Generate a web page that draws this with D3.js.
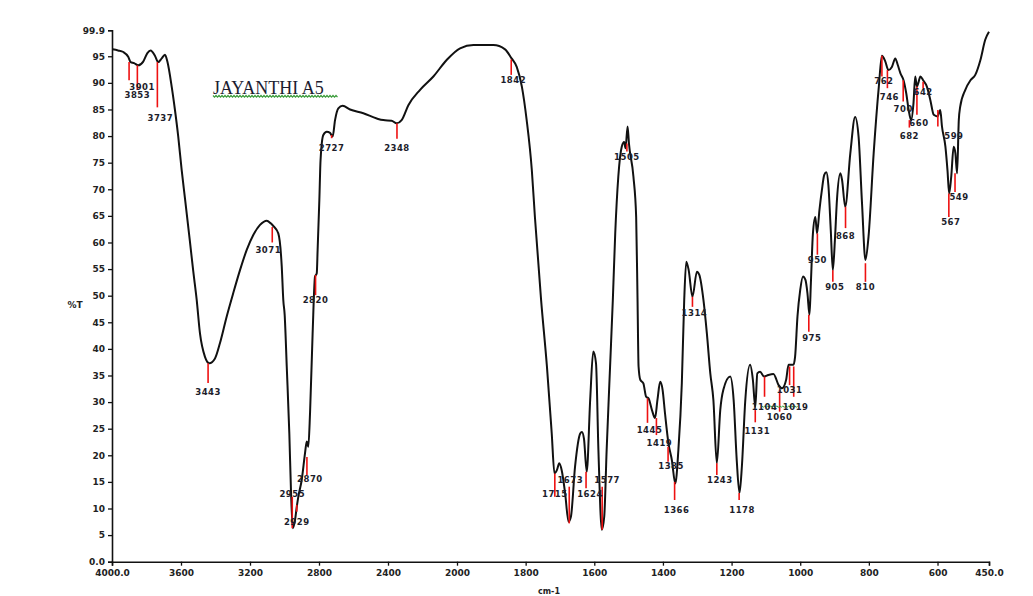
<!DOCTYPE html>
<html>
<head>
<meta charset="utf-8">
<script src="https://cdn.jsdelivr.net/npm/d3@7"></script>
<style>
  html, body { margin: 0; padding: 0; background: #fff; }
  svg { display: block; }
  .tick text { font-family: "DejaVu Sans", sans-serif; font-weight: bold; font-size: 9px; fill: #222; }
</style>
</head>
<body>
<svg id="chart" width="1033" height="596"></svg>
<script>
// IR spectrum of sample JAYANTHI A5: wavenumber (cm-1) vs % transmittance
const wavenumber = [
  3997, 3965, 3934, 3906, 3892, 3872, 3848, 3819, 3795, 3776, 3751, 3732, 3712, 3693, 3679,
  3654, 3635, 3616, 3596, 3577, 3548, 3529, 3509, 3490, 3461, 3436, 3403, 3374, 3335, 3297,
  3258, 3219, 3181, 3142, 3103, 3080, 3065, 3036, 3016, 3007, 2999, 2987, 2972, 2962, 2952,
  2939, 2929, 2920, 2900, 2881, 2871, 2862, 2852, 2837, 2823, 2813, 2808, 2798, 2791, 2775,
  2755, 2736, 2721, 2707, 2688, 2663, 2620, 2543, 2465, 2427, 2379, 2350, 2321, 2282, 2214,
  2137, 2060, 1991, 1952, 1894, 1860, 1841, 1826, 1811, 1797, 1782, 1773, 1755, 1738, 1724,
  1716, 1709, 1702, 1695, 1685, 1675, 1668, 1656, 1641, 1636, 1630, 1622, 1612, 1603, 1595,
  1588, 1578, 1571, 1564, 1554, 1546, 1539, 1530, 1520, 1513, 1509, 1503, 1499, 1486, 1478,
  1474, 1471, 1466, 1457, 1449, 1442, 1432, 1423, 1416, 1408, 1401, 1394, 1384, 1374, 1364,
  1355, 1345, 1338, 1332, 1325, 1314, 1301, 1294, 1282, 1272, 1262, 1253, 1243, 1233, 1224,
  1204, 1194, 1185, 1177, 1170, 1160, 1146, 1138, 1131, 1125, 1117, 1105, 1093, 1078, 1063,
  1053, 1041, 1034, 1020, 1015, 1008, 1000, 992, 985, 979, 973, 969, 963, 956, 951,
  944, 937, 930, 924, 918, 911, 905, 899, 893, 883, 878, 869, 854, 840, 830,
  820, 810, 801, 786, 771, 762, 752, 743, 733, 723, 716, 708, 699, 691, 684,
  677, 670, 665, 660, 655, 650, 642, 631, 621, 611, 600, 592, 587, 577, 571,
  566, 560, 553, 548, 543, 538, 534, 519, 504, 490, 475, 461, 450
];
const transmittance = [
  96.3, 96.1, 95.8, 94.9, 93.9, 93.7, 93.3, 94.0, 95.6, 96.1, 95.1, 93.9, 94.6, 95.3, 94.0,
  89.3, 84.9, 79.9, 73.6, 68.3, 60.1, 54.6, 49.2, 42.9, 38.5, 37.3, 38.2, 41.1, 46.1, 50.5,
  54.8, 58.6, 61.4, 63.3, 64.1, 63.6, 63.1, 61.7, 55.5, 49.2, 46.4, 36.7, 24.1, 12.9, 6.3,
  7.8, 10.3, 12.2, 15.4, 20.4, 22.6, 21.6, 27.9, 42.9, 53.6, 54.2, 58.6, 68.0, 75.5, 80.2,
  80.8, 80.6, 79.9, 83.0, 85.2, 85.7, 85.0, 84.3, 83.3, 83.0, 82.9, 82.4, 83.0, 85.8, 88.7,
  91.2, 94.3, 96.5, 97.1, 97.1, 96.3, 94.6, 93.0, 89.3, 83.0, 73.6, 64.8, 49.2, 36.7, 24.1,
  16.6, 17.2, 18.5, 17.2, 12.9, 7.5, 8.5, 17.9, 24.1, 24.4, 23.1, 16.9, 30.4, 39.5, 37.3,
  21.0, 6.0, 8.5, 21.0, 36.7, 49.2, 61.7, 72.4, 78.0, 78.9, 77.7, 81.8, 78.6, 72.4, 64.8,
  49.2, 36.7, 34.2, 33.5, 31.0, 30.7, 28.5, 27.0, 30.4, 33.8, 32.3, 27.9, 22.3, 19.1, 14.7,
  21.0, 33.5, 49.2, 56.4, 54.8, 49.8, 54.5, 53.9, 49.2, 42.9, 35.4, 30.4, 18.5, 28.5, 32.3,
  34.8, 30.4, 19.1, 12.9, 17.9, 30.4, 37.0, 34.2, 29.1, 35.4, 35.7, 34.8, 35.1, 35.3, 33.2,
  32.6, 34.2, 37.0, 37.0, 38.5, 46.1, 51.1, 53.6, 53.0, 50.5, 46.4, 52.3, 61.7, 64.8, 61.7,
  66.1, 69.8, 72.7, 73.2, 70.8, 62.3, 54.8, 60.4, 68.0, 73.0, 71.7, 66.7, 76.8, 83.6, 79.9,
  67.4, 56.7, 61.1, 76.8, 89.3, 95.1, 94.0, 92.4, 93.0, 94.6, 93.4, 91.8, 90.5, 88.0, 84.9,
  83.0, 86.2, 91.2, 89.3, 90.2, 91.2, 90.5, 89.3, 86.8, 84.0, 83.7, 84.9, 81.8, 78.0, 73.6,
  69.2, 72.4, 78.0, 76.8, 73.0, 83.0, 85.5, 88.7, 90.5, 91.5, 94.3, 98.1, 99.6
];

// Peak picks: wavenumber, marker top and bottom (%T), label level (%T)
const peakWn    = [3901, 3853, 3737, 3443, 3071, 2955, 2929, 2870, 2820, 2727, 2348, 1842, 1505,
                   1715, 1673, 1624, 1577, 1445, 1419, 1385, 1366, 1314, 1243, 1178, 1131, 1104,
                   1060, 1031, 1019, 975, 950, 905, 868, 810, 762, 746, 700, 682, 660, 642, 599, 567, 549];
const peakTop   = [93.9, 93.3, 93.9, 37.3, 62.9, 12.2, 10.7, 19.7, 53.9, 80.2, 82.4, 94.4, 78.6,
                   16.6, 14.1, 16.9, 14.1, 30.7, 27.0, 21.6, 15.0, 49.8, 18.5, 12.9, 28.5, 34.8,
                   32.3, 36.7, 36.7, 46.4, 61.7, 54.8, 66.7, 56.1, 95.1, 92.4, 90.5, 83.0, 89.3, 90.2, 84.9, 69.2, 73.0];
const peakBase  = [90.5, 88.7, 85.4, 33.6, 60.0, 6.3, 9.4, 16.3, 50.1, 79.6, 79.5, 91.5, 77.1,
                   12.2, 7.2, 13.8, 6.0, 26.1, 23.8, 18.8, 11.6, 47.9, 16.3, 11.6, 26.2, 31.0,
                   28.2, 33.2, 31.0, 43.2, 57.7, 52.6, 62.7, 52.6, 91.2, 89.0, 86.5, 81.6, 84.0, 89.0, 81.8, 64.8, 69.5];
const labelT    = [89.2, 87.7, 83.3, 31.8, 58.6, 12.7, 7.4, 15.5, 49.1, 77.7, 77.7, 90.5, 76.0,
                   12.7, 15.4, 12.7, 15.4, 24.8, 22.3, 17.9, 9.8, 46.7, 15.4, 9.8, 24.6, 29.1,
                   27.1, 32.3, 29.1, 42.0, 56.7, 51.7, 61.2, 51.7, 90.4, 87.3, 85.0, 80.0, 82.5, 88.2, 80.0, 63.8, 68.6];

const xTicks = [4000, 3600, 3200, 2800, 2400, 2000, 1800, 1600, 1400, 1200, 1000, 800, 600, 450];
const yTicks = [0, 5, 10, 15, 20, 25, 30, 35, 40, 45, 50, 55, 60, 65, 70, 75, 80, 85, 90, 95, 99.9];

const svg = d3.select("#chart");

// Instrument scale: compressed above 2000 cm-1, expanded below
const x = d3.scaleLinear().domain([4000, 2000, 450]).range([112, 457, 989]);
const y = d3.scaleLinear().domain([0, 99.9]).range([561.7, 30.2]);

// Horizontal shifts (px) that keep crowded labels apart
const labelShift = { 3901: 13, 3737: 3, 3071: -4, 2870: 3, 1624: 4, 1577: 5, 1445: 2, 1419: 3,
  1385: 3, 1366: 2, 1314: 2, 1243: 3, 1178: 3, 1131: 2, 1019: 2, 975: 3, 905: 2, 762: 2, 746: 2,
  660: 2, 599: 16, 567: 2, 549: 4, 1842: 2, 1673: 1 };

// Axes
const xAxis = d3.axisBottom(x).tickValues(xTicks).tickSize(4).tickPadding(4)
  .tickFormat(d => (d === 4000 || d === 450) ? d.toFixed(1) : String(d));
const yAxis = d3.axisLeft(y).tickValues(yTicks).tickSize(4).tickPadding(3)
  .tickFormat(d => d === 0 ? "0.0" : String(d));

const gx = svg.append("g").attr("transform", `translate(0,${y(0)})`).call(xAxis);
const gy = svg.append("g").attr("transform", `translate(${x(4000)},0)`).call(yAxis);
[gx, gy].forEach(g => {
  g.select(".domain").attr("stroke", "#111").attr("stroke-width", 1.6);
  g.selectAll(".tick line").attr("stroke", "#111").attr("stroke-width", 1.3);
});

// Axis titles
svg.append("text").attr("x", 75).attr("y", 308)
  .attr("text-anchor", "middle")
  .style("font-family", "DejaVu Sans, sans-serif").style("font-weight", "bold")
  .style("font-size", "9px").attr("fill", "#222").text("%T");
svg.append("text").attr("x", 549).attr("y", 594)
  .attr("text-anchor", "middle")
  .style("font-family", "DejaVu Sans, sans-serif").style("font-weight", "bold")
  .style("font-size", "8px").attr("fill", "#222").text("cm-1");

// Spectrum trace
const pts = wavenumber.map((w, i) => [w, transmittance[i]]);
svg.append("path")
  .datum(pts)
  .attr("fill", "none")
  .attr("stroke", "#111")
  .attr("stroke-width", 2)
  .attr("stroke-linejoin", "round")
  .attr("d", d3.line().x(d => x(d[0])).y(d => y(d[1])).curve(d3.curveMonotoneX));

// Peak markers and labels
const peaks = peakWn.map((w, i) => ({ w, top: peakTop[i], base: peakBase[i], lt: labelT[i] }));
svg.append("g").selectAll("line").data(peaks).join("line")
  .attr("x1", d => x(d.w)).attr("x2", d => x(d.w))
  .attr("y1", d => y(d.top)).attr("y2", d => y(d.base))
  .attr("stroke", "#ee1111").attr("stroke-width", 1.6);

// Wavy spell-check style underline
function squiggle(x0, x1, yy) {
  let d = `M${x0},${yy}`;
  for (let xx = x0, k = 0; xx < x1; xx += 1.5, k++) d += `L${xx + 1.5},${yy + (k % 2 ? 0 : 1.6)}`;
  return d;
}
svg.append("path").attr("d", squiggle(x(1112), x(1008), y(29.3)))
  .attr("fill", "none").attr("stroke", "#3c9c3c").attr("stroke-width", 1);

svg.append("g").selectAll("text").data(peaks).join("text")
  .attr("x", d => x(d.w) + (labelShift[d.w] || 0))
  .attr("y", d => y(d.lt))
  .attr("dy", "0.35em")
  .attr("text-anchor", "middle")
  .style("font-family", "DejaVu Sans, sans-serif").style("font-weight", "bold")
  .style("font-size", "8.5px").style("letter-spacing", "0.5px")
  .attr("fill", "#1d1d2b")
  .text(d => String(d.w));

// Sample name
svg.append("text").attr("x", 213).attr("y", 94)
  .style("font-family", "Liberation Serif, serif").style("font-size", "18px")
  .attr("fill", "#1c1c30").text("JAYANTHI A5");
svg.append("path").attr("d", squiggle(213, 337, 95.5))
  .attr("fill", "none").attr("stroke", "#3c9c3c").attr("stroke-width", 1.2);
</script>
</body>
</html>
